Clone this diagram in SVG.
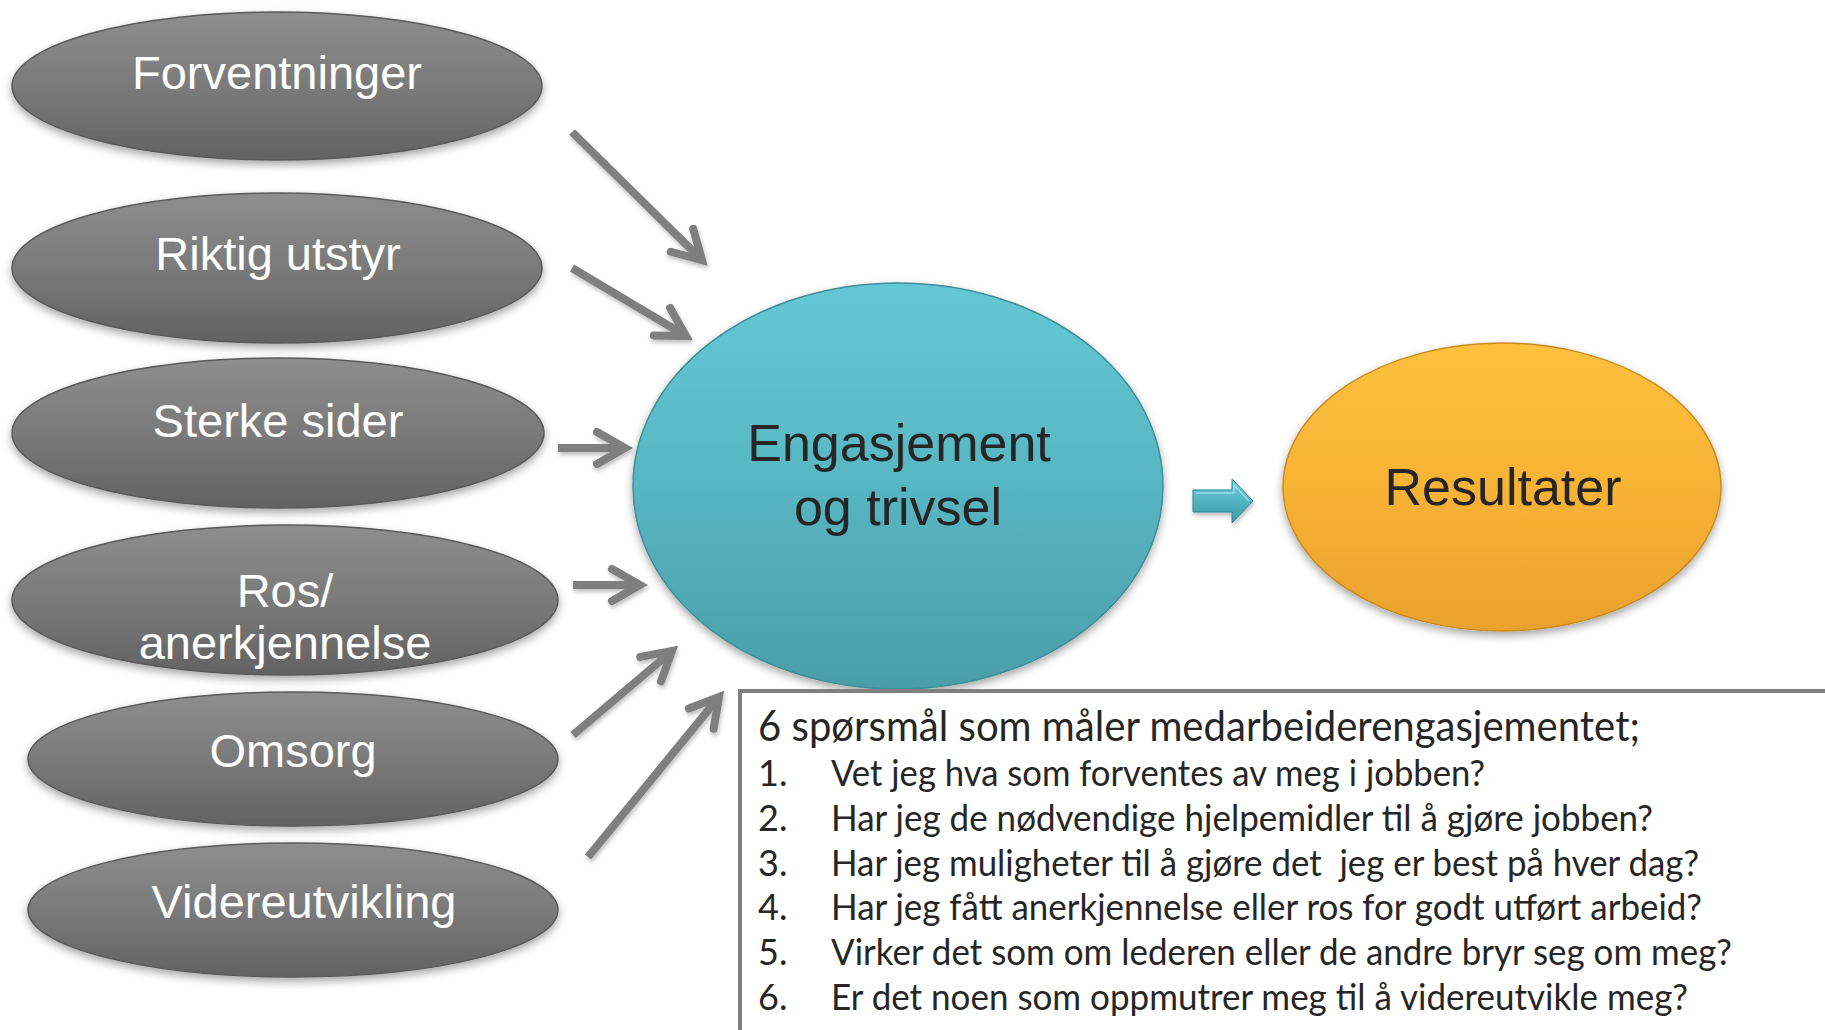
<svg xmlns="http://www.w3.org/2000/svg" width="1825" height="1030" viewBox="0 0 1825 1030">
<defs>
<style>
.glab{font-family:"Liberation Sans",Arial,sans-serif;font-size:47px;fill:#ffffff;text-anchor:middle}
.dlab{font-family:"Liberation Sans",Arial,sans-serif;font-size:52px;fill:#262626;text-anchor:middle}
.q{font-family:Lato,"Open Sans","Liberation Sans",sans-serif;font-size:36px;fill:#262626}
.qt{font-family:Lato,"Open Sans","Liberation Sans",sans-serif;font-size:42px;fill:#262626}
.gray{fill:url(#gGray);stroke:#5a5a5a;stroke-width:1.5;filter:url(#sh)}
.conn{fill:none;stroke:#7f7f7f;stroke-width:8;marker-end:url(#ah);filter:url(#shs)}
</style>
<linearGradient id="gGray" x1="0" y1="0" x2="0" y2="1">
<stop offset="0" stop-color="#8e8e8e"/>
<stop offset="0.5" stop-color="#7a7a7a"/>
<stop offset="1" stop-color="#626262"/>
</linearGradient>
<linearGradient id="gTeal" x1="0" y1="0" x2="0" y2="1">
<stop offset="0" stop-color="#64c8d4"/>
<stop offset="0.5" stop-color="#57b6c2"/>
<stop offset="1" stop-color="#4a9ea7"/>
</linearGradient>
<linearGradient id="gOr" x1="0" y1="0" x2="0" y2="1">
<stop offset="0" stop-color="#fdc13e"/>
<stop offset="0.5" stop-color="#f7b335"/>
<stop offset="1" stop-color="#e9a22d"/>
</linearGradient>
<linearGradient id="gArr" x1="0" y1="0" x2="0" y2="1">
<stop offset="0" stop-color="#6fd0dc"/>
<stop offset="1" stop-color="#3a97a5"/>
</linearGradient>
<filter id="sh" x="-10%" y="-10%" width="120%" height="130%">
<feDropShadow dx="0" dy="4" stdDeviation="4" flood-color="#000" flood-opacity="0.35"/>
</filter>
<filter id="shs" filterUnits="userSpaceOnUse" x="0" y="0" width="1825" height="1030">
<feDropShadow dx="1" dy="3" stdDeviation="2" flood-color="#000" flood-opacity="0.25"/>
</filter>
<marker id="ah" markerUnits="userSpaceOnUse" viewBox="-45 -30 55 60" markerWidth="55" markerHeight="60" refX="0" refY="0" orient="auto" overflow="visible">
<path d="M-28,-16 L0,0 L-28,16" fill="none" stroke="#7f7f7f" stroke-width="8" stroke-linejoin="miter" stroke-linecap="round"/>
</marker>
</defs>
<rect width="1825" height="1030" fill="#ffffff"/>

<g id="connectors">
<path class="conn" d="M572,132 L702,260"/>
<path class="conn" d="M572,268 L686,336"/>
<path class="conn" d="M558,448 L625,448"/>
<path class="conn" d="M573,585 L640,585"/>
<path class="conn" d="M573,735 L672,651"/>
<path class="conn" d="M588,857 L719,697"/>
<path id="to-result" d="M1193,490 L1232,490 L1232,479 L1253,501 L1232,523 L1232,512 L1193,512 Z" fill="url(#gArr)" stroke="#2f8593" stroke-width="1" filter="url(#shs)"/>
<path d="M1196,493 L1234,493 L1234,485 L1249,501" fill="none" stroke="#a8e6ee" stroke-width="1.5" opacity="0.8"/>
</g>

<g id="node-forventninger">
<ellipse class="gray" cx="277" cy="86" rx="265" ry="74"/>
<text class="glab" x="277" y="89">Forventninger</text>
</g>
<g id="node-riktig-utstyr">
<ellipse class="gray" cx="277" cy="268" rx="265" ry="75"/>
<text class="glab" x="278" y="270">Riktig utstyr</text>
</g>
<g id="node-sterke-sider">
<ellipse class="gray" cx="278" cy="433" rx="266" ry="75"/>
<text class="glab" x="278" y="437">Sterke sider</text>
</g>
<g id="node-ros">
<ellipse class="gray" cx="285" cy="600" rx="273" ry="75"/>
<text class="glab" x="285" y="607">Ros/</text>
<text class="glab" x="285" y="659">anerkjennelse</text>
</g>
<g id="node-omsorg">
<ellipse class="gray" cx="293" cy="759" rx="265" ry="67"/>
<text class="glab" x="293" y="767">Omsorg</text>
</g>
<g id="node-videreutvikling">
<ellipse class="gray" cx="293" cy="910" rx="265" ry="67"/>
<text class="glab" x="304" y="918">Videreutvikling</text>
</g>

<g id="node-engasjement">
<ellipse cx="898" cy="486" rx="265" ry="203" fill="url(#gTeal)" stroke="#3f8e97" stroke-width="1.5" filter="url(#sh)"/>
<text class="dlab" x="899" y="461">Engasjement</text>
<text class="dlab" x="898" y="525">og trivsel</text>
</g>

<g id="node-resultater">
<ellipse cx="1502" cy="487" rx="219" ry="144" fill="url(#gOr)" stroke="#c98c22" stroke-width="1.5" filter="url(#sh)"/>
<text class="dlab" x="1503" y="505">Resultater</text>
</g>

<g id="node-questions">
<rect x="740" y="691" width="1100" height="360" fill="#ffffff" stroke="#808080" stroke-width="4"/>
<text class="qt" x="758" y="741" textLength="882" lengthAdjust="spacingAndGlyphs">6 spørsmål som måler medarbeiderengasjementet;</text>
<text class="q" x="758" y="786">1.</text>
<text class="q" x="831" y="786" textLength="654" lengthAdjust="spacingAndGlyphs">Vet jeg hva som forventes av meg i jobben?</text>
<text class="q" x="758" y="831">2.</text>
<text class="q" x="831" y="831" textLength="822" lengthAdjust="spacingAndGlyphs">Har jeg de nødvendige hjelpemidler til å gjøre jobben?</text>
<text class="q" x="758" y="876">3.</text>
<text class="q" x="831" y="876" textLength="868" lengthAdjust="spacingAndGlyphs" style="white-space:pre">Har jeg muligheter til å gjøre det  jeg er best på hver dag?</text>
<text class="q" x="758" y="920">4.</text>
<text class="q" x="831" y="920" textLength="871" lengthAdjust="spacingAndGlyphs">Har jeg fått anerkjennelse eller ros for godt utført arbeid?</text>
<text class="q" x="758" y="965">5.</text>
<text class="q" x="831" y="965" textLength="901" lengthAdjust="spacingAndGlyphs">Virker det som om lederen eller de andre bryr seg om meg?</text>
<text class="q" x="758" y="1010">6.</text>
<text class="q" x="831" y="1010" textLength="857" lengthAdjust="spacingAndGlyphs">Er det noen som oppmutrer meg til å videreutvikle meg?</text>
</g>
</svg>
